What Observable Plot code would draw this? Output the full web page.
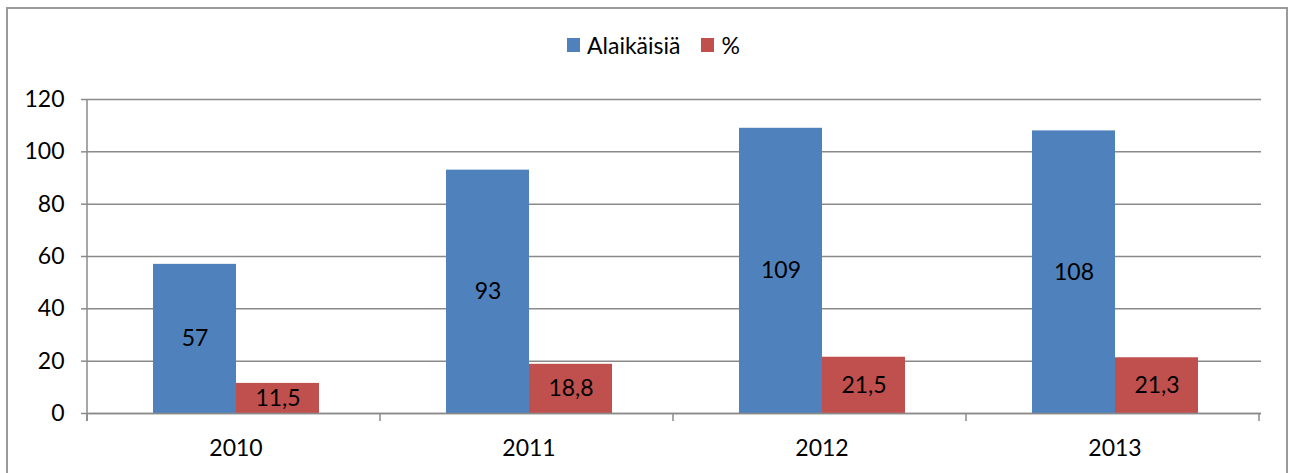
<!DOCTYPE html>
<html>
<head>
<meta charset="utf-8">
<script src="https://cdn.jsdelivr.net/npm/d3@7"></script>
<script src="https://cdn.jsdelivr.net/npm/@observablehq/plot@0.6"></script>
<style>
  html, body { margin: 0; padding: 0; background: #fff; }
  #wrap { position: relative; width: 1292px; height: 473px; overflow: hidden; font-family: Lato, "Open Sans", sans-serif; }
  #border { position: absolute; left: 6px; top: 7px; width: 1282px; height: 480px; border: 2px solid #9a9a9a; box-sizing: border-box; pointer-events: none; }
  #legend { position: absolute; left: 567px; top: 28px; height: 34px; display: flex; align-items: center; font-size: 23px; color: #000; }
  #legend .sw { width: 13px; height: 14px; display: inline-block; margin-right: 7px; }
  #legend .item { display: flex; align-items: center; margin-right: 21px; }
  #chart { position: absolute; left: 0; top: 80px; }
</style>
</head>
<body>
<div id="wrap">
  <div id="legend"></div>
  <div id="chart"></div>
  <div id="border"></div>
</div>
<script>
const years = ["2010", "2011", "2012", "2013"];
const series = ["Alaikäisiä", "%"];
const alaikaisia = [57, 93, 109, 108];
const prosentti = [11.5, 18.8, 21.5, 21.3];
const colors = ["#4F81BD", "#C0504D"];
const yTicks = [0, 20, 40, 60, 80, 100, 120];

const table = years.flatMap((year, i) => [
  {year, series: series[0], value: alaikaisia[i]},
  {year, series: series[1], value: prosentti[i]}
]);

const fmt = v => String(v).replace(".", ",");

// legend
const legend = document.getElementById("legend");
series.forEach((s, i) => {
  const item = document.createElement("span");
  item.className = "item";
  item.innerHTML = `<span class="sw" style="background:${colors[i]}"></span><span>${s}</span>`;
  legend.appendChild(item);
});

const grid = "#8a8a8a";

const plot = Plot.plot({
  width: 1292,
  height: 393,
  marginLeft: 87,
  marginRight: 30,
  marginTop: 19,
  marginBottom: 60,
  style: {fontFamily: "Lato, 'Open Sans', sans-serif", fontSize: "23px", color: "#000", background: "transparent"},
  fx: {domain: years, padding: 0, label: null},
  x: {domain: series, paddingInner: 0, paddingOuter: 0.75, axis: null},
  y: {domain: [0, 120], label: null},
  color: {domain: series, range: colors},
  marks: [
    Plot.ruleY(yTicks, {stroke: grid, strokeWidth: 1.5}),
    Plot.barY(table, {fx: "year", x: "series", y: "value", fill: "series"}),
    Plot.ruleY([0], {stroke: grid, strokeWidth: 1.5}),
    Plot.text(table, {fx: "year", x: "series", y: d => d.value / 2, text: d => fmt(d.value), fill: "#000", fontSize: 23}),
    Plot.axisY({ticks: yTicks, tickSize: 8, tickPadding: 17, stroke: grid, fill: "#000", strokeWidth: 1.5, label: null, fontSize: 23}),
    Plot.axisFx({anchor: "bottom", tickSize: 0, tickPadding: 26, label: null, fontSize: 23, fill: "#000"})
  ]
});

document.getElementById("chart").appendChild(plot);

// y axis line and category boundary ticks, positioned from Plot's own scales
const fx = plot.scale("fx");
const ys = plot.scale("y");
const svg = d3.select(plot);
const y0 = ys.apply(0), yTop = ys.apply(120);
const x0 = fx.range[0];
svg.append("line").attr("x1", x0).attr("x2", x0).attr("y1", yTop).attr("y2", y0 + 8)
  .attr("stroke", grid).attr("stroke-width", 1.5);
for (let i = 0; i <= years.length; i++) {
  const bx = fx.range[0] + i * fx.step;
  svg.append("line").attr("x1", bx).attr("x2", bx).attr("y1", y0).attr("y2", y0 + 8)
    .attr("stroke", grid).attr("stroke-width", 1.5);
}
</script>
</body>
</html>
